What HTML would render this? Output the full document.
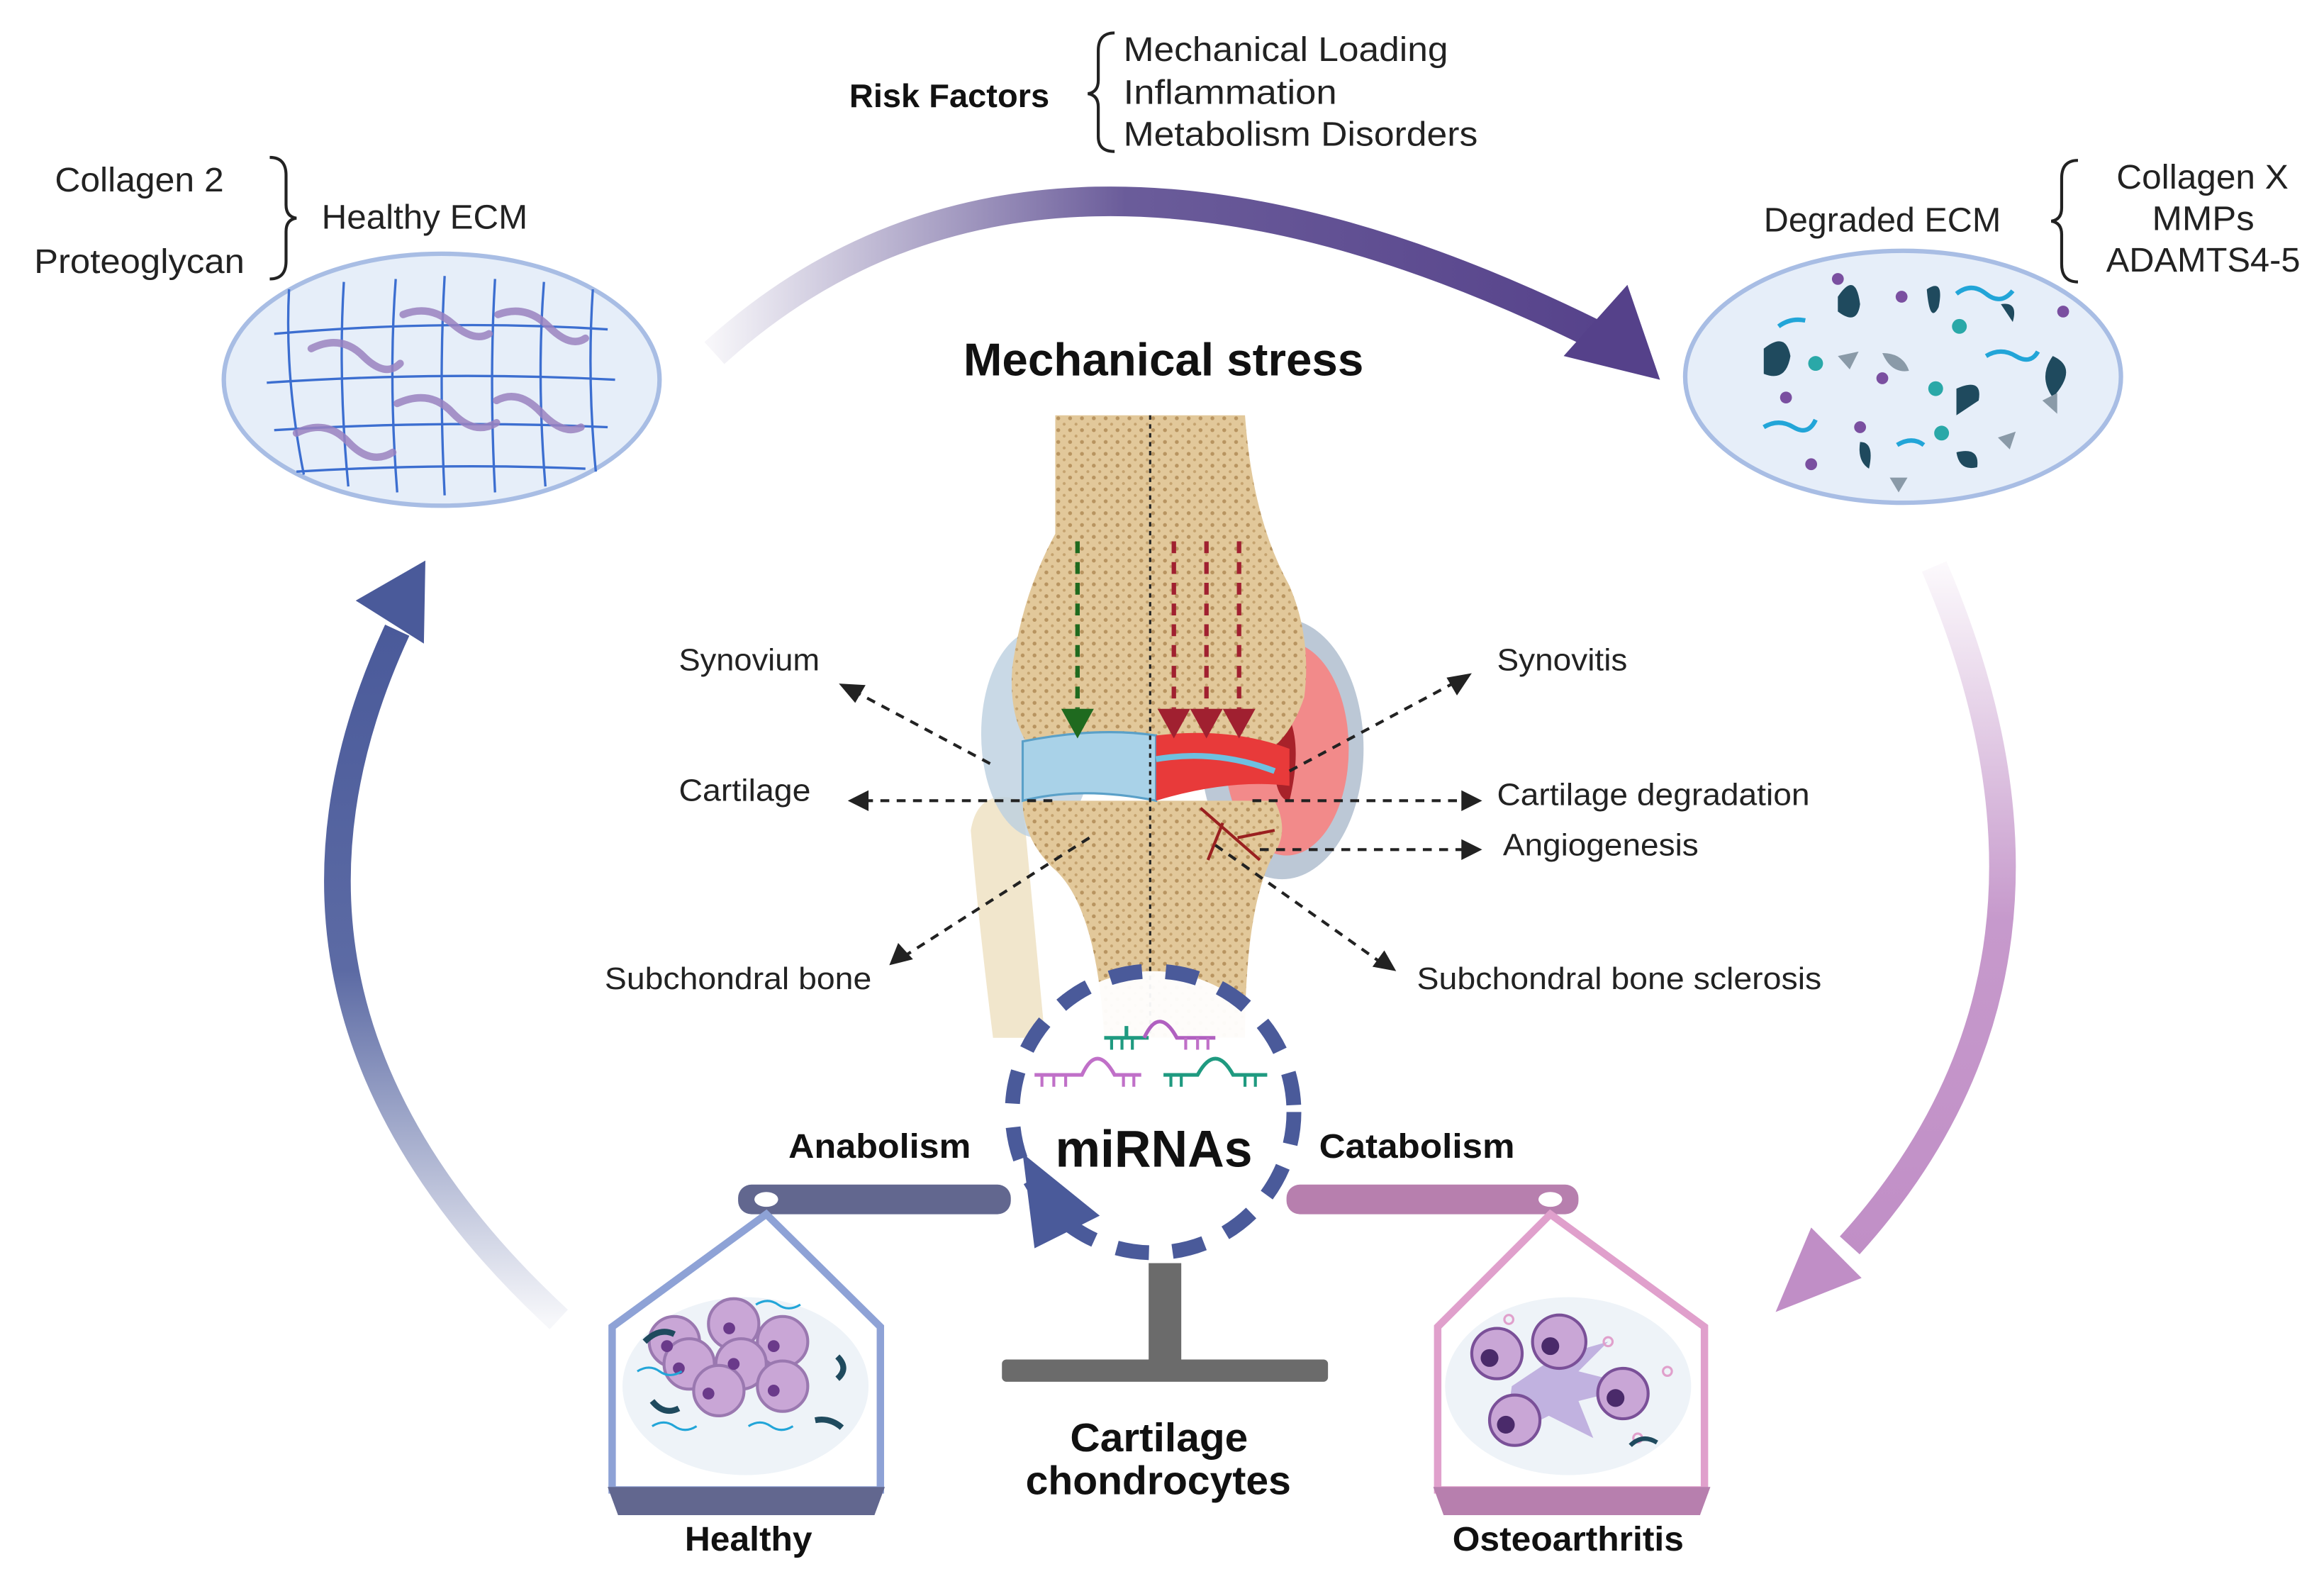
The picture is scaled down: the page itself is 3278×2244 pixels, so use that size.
<!DOCTYPE html>
<html><head><meta charset="utf-8"><style>
html,body{margin:0;padding:0;background:#fff;}
svg{display:block;}
text{font-family:"Liberation Sans",sans-serif;fill:#222;}
.b{font-weight:bold;fill:#111;}
</style></head><body>
<svg width="3278" height="2244" viewBox="0 0 1568 1073" xmlns="http://www.w3.org/2000/svg">
<defs>
<linearGradient id="gTop" x1="480" y1="0" x2="1100" y2="0" gradientUnits="userSpaceOnUse">
<stop offset="0" stop-color="#5a4a8f" stop-opacity="0.05"/><stop offset="0.45" stop-color="#5a4a8f" stop-opacity="0.9"/><stop offset="1" stop-color="#55418a"/></linearGradient>
<linearGradient id="gRight" x1="0" y1="380" x2="0" y2="860" gradientUnits="userSpaceOnUse">
<stop offset="0" stop-color="#c08ec6" stop-opacity="0.05"/><stop offset="0.5" stop-color="#c08ec6" stop-opacity="0.9"/><stop offset="1" stop-color="#c08ec6"/></linearGradient>
<linearGradient id="gLeft" x1="0" y1="890" x2="0" y2="420" gradientUnits="userSpaceOnUse">
<stop offset="0" stop-color="#4a5a9a" stop-opacity="0.05"/><stop offset="0.5" stop-color="#4a5a9a" stop-opacity="0.9"/><stop offset="1" stop-color="#4a5a9a"/></linearGradient>
<pattern id="dots" width="8" height="8" patternUnits="userSpaceOnUse"><rect width="8" height="8" fill="#e2c89a"/><circle cx="2" cy="2" r="1.3" fill="#b89460"/><circle cx="6" cy="6" r="1" fill="#c4a26e"/></pattern>
</defs>

<!-- arcs -->
<path d="M482,238 Q700,40 1075,225" fill="none" stroke="url(#gTop)" stroke-width="20"/>
<polygon points="1120,256 1055,240 1098,192" fill="#55418a"/>
<path d="M1305,382 Q1420,650 1248,840" fill="none" stroke="url(#gRight)" stroke-width="18"/>
<polygon points="1198,885 1222,828 1256,862" fill="#c08ec6"/>
<path d="M377,890 Q150,680 268,425" fill="none" stroke="url(#gLeft)" stroke-width="18"/>
<polygon points="287,378 240,405 286,434" fill="#4a5a9a"/>

<!-- top texts -->
<text x="573" y="72" font-size="22" class="b" textLength="135" lengthAdjust="spacingAndGlyphs">Risk Factors</text>
<path d="M752,22 Q741,22 741,34 L741,54 Q741,62 734,63 Q741,64 741,72 L741,92 Q741,102 752,102" fill="none" stroke="#222" stroke-width="2"/>
<text x="758" y="41" font-size="23" textLength="219" lengthAdjust="spacingAndGlyphs">Mechanical Loading</text>
<text x="758" y="70" font-size="23" textLength="144" lengthAdjust="spacingAndGlyphs">Inflammation</text>
<text x="758" y="98" font-size="23" textLength="239" lengthAdjust="spacingAndGlyphs">Metabolism Disorders</text>

<text x="37" y="129" font-size="23" textLength="114" lengthAdjust="spacingAndGlyphs">Collagen 2</text>
<text x="23" y="184" font-size="23" textLength="142" lengthAdjust="spacingAndGlyphs">Proteoglycan</text>
<path d="M182,106 Q193,106 193,118 L193,138 Q193,146 200,147 Q193,148 193,156 L193,176 Q193,188 182,188" fill="none" stroke="#222" stroke-width="2"/>
<text x="217" y="154" font-size="23" textLength="139" lengthAdjust="spacingAndGlyphs">Healthy ECM</text>

<text x="1190" y="156" font-size="23" textLength="160" lengthAdjust="spacingAndGlyphs">Degraded ECM</text>
<path d="M1402,108 Q1391,108 1391,120 L1391,140 Q1391,148 1384,149 Q1391,150 1391,158 L1391,178 Q1391,190 1402,190" fill="none" stroke="#222" stroke-width="2"/>
<text x="1428" y="127" font-size="23" textLength="116" lengthAdjust="spacingAndGlyphs">Collagen X</text>
<text x="1452" y="155" font-size="23" textLength="69" lengthAdjust="spacingAndGlyphs">MMPs</text>
<text x="1421" y="183" font-size="23" textLength="131" lengthAdjust="spacingAndGlyphs">ADAMTS4-5</text>

<!-- healthy ECM -->
<ellipse cx="298" cy="256" rx="147" ry="85" fill="#e6eef9" stroke="#a8bde4" stroke-width="3"/>
<g stroke="#3c6ed0" stroke-width="1.6" fill="none">
<path d="M185,225 Q300,215 410,222"/><path d="M180,258 Q300,250 415,256"/><path d="M185,290 Q300,283 410,288"/><path d="M200,318 Q300,312 395,316"/>
<path d="M195,195 Q192,255 205,320"/><path d="M232,190 Q228,255 235,328"/><path d="M267,188 Q262,255 268,332"/><path d="M300,186 Q296,255 300,334"/><path d="M334,188 Q330,255 334,332"/><path d="M367,190 Q362,255 368,328"/><path d="M400,195 Q396,255 402,318"/>
</g>
<g stroke="#9a82c0" stroke-width="5" fill="none" stroke-linecap="round" opacity="0.85">
<path d="M210,235 Q230,225 245,240 T270,245"/><path d="M272,212 Q290,205 305,218 T330,225"/><path d="M336,212 Q355,205 370,220 T395,228"/>
<path d="M268,272 Q290,262 305,278 T335,285"/><path d="M335,270 Q350,262 365,278 T392,288"/><path d="M200,292 Q220,282 235,298 T265,305"/>
</g>

<!-- degraded ECM -->
<ellipse cx="1284" cy="254" rx="147" ry="85" fill="#e6eef9" stroke="#a8bde4" stroke-width="3"/>
<g fill="#1f4a5e">
<path d="M1240,200 q12,-18 15,5 q-2,15 -15,5z"/><path d="M1300,195 q12,-8 8,12 q-6,12 -8,-12z"/><path d="M1190,235 q15,-12 18,5 q-3,18 -18,12z"/><path d="M1385,240 q18,8 0,28 q-10,-14 0,-28z"/><path d="M1320,262 q18,-8 15,8 l-15,10z"/><path d="M1255,298 q10,0 6,18 q-8,-5 -6,-18z"/><path d="M1320,305 q16,-4 14,10 q-12,3 -14,-10z"/><path d="M1350,205 q12,-2 8,12z"/>
</g>
<g fill="#8a9aa8"><path d="M1240,240 l14,-3 l-6,12z"/><path d="M1270,238 q14,0 18,12 q-12,2 -18,-12z"/><path d="M1378,270 l10,-5 l0,14z"/><path d="M1348,295 l12,-4 l-4,12z"/><path d="M1275,322 l12,0 l-6,10z"/></g>
<g fill="#2aa8a8"><circle cx="1225" cy="245" r="5"/><circle cx="1322" cy="220" r="5"/><circle cx="1306" cy="262" r="5"/><circle cx="1310" cy="292" r="5"/></g>
<g fill="#7a4fa0"><circle cx="1240" cy="188" r="4"/><circle cx="1283" cy="200" r="4"/><circle cx="1205" cy="268" r="4"/><circle cx="1222" cy="313" r="4"/><circle cx="1392" cy="210" r="4"/><circle cx="1270" cy="255" r="4"/><circle cx="1255" cy="288" r="4"/></g>
<g stroke="#22a5d8" stroke-width="3" fill="none"><path d="M1320,198 q10,-8 20,0 t18,-2"/><path d="M1190,288 q10,-6 20,0 t15,-5"/><path d="M1340,240 q10,-6 20,0 t15,-3"/><path d="M1280,300 q10,-6 18,0"/><path d="M1200,220 q8,-6 18,-4"/></g>

<!-- knee -->
<text x="650" y="253" font-size="31" class="b" textLength="270" lengthAdjust="spacingAndGlyphs">Mechanical stress</text>
<path d="M655,560 Q660,530 690,540 L705,700 L670,700 Q660,620 655,560z" fill="#f1e6cc"/>
<ellipse cx="700" cy="495" rx="38" ry="70" fill="#bcd0e0" opacity="0.8"/>
<ellipse cx="865" cy="505" rx="55" ry="88" fill="#bcc8d6"/>
<ellipse cx="868" cy="505" rx="42" ry="72" fill="#f28a8a"/>
<path d="M860,470 q22,20 10,70 q-15,0 -10,-70z" fill="#a8222a"/>
<path d="M712,280 L840,280 Q845,350 870,395 Q885,430 880,470 Q870,500 850,510 L780,505 L700,510 Q680,490 683,450 Q690,400 712,360z" fill="url(#dots)"/>
<path d="M690,540 L860,540 Q870,560 860,575 Q840,610 840,700 L745,700 Q740,610 710,585 Q690,565 690,540z" fill="url(#dots)"/>
<path d="M690,500 Q740,490 780,496 L780,540 Q730,530 690,540z" fill="#a9d2e8" stroke="#5aa0c8" stroke-width="1.5"/>
<path d="M780,496 Q830,490 870,505 L870,530 Q830,525 780,540z" fill="#e83a3a"/>
<path d="M780,512 Q820,505 860,520" stroke="#6ec0e0" stroke-width="4" fill="none"/>
<path d="M810,545 L850,580 M825,555 L815,580 M835,565 L860,560" stroke="#9a2020" stroke-width="2" fill="none"/>
<line x1="776" y1="280" x2="776" y2="700" stroke="#222" stroke-width="1.5" stroke-dasharray="3,3"/>
<line x1="727" y1="365" x2="727" y2="478" stroke="#1f6a1f" stroke-width="3" stroke-dasharray="8,6"/>
<polygon points="716,478 738,478 727,498" fill="#1f6a1f"/>
<g stroke="#a02030" stroke-width="3" stroke-dasharray="8,6"><line x1="792" y1="365" x2="792" y2="478"/><line x1="814" y1="365" x2="814" y2="478"/><line x1="836" y1="365" x2="836" y2="478"/></g>
<g fill="#a02030"><polygon points="781,478 803,478 792,498"/><polygon points="803,478 825,478 814,498"/><polygon points="825,478 847,478 836,498"/></g>

<!-- labels & dashed arrows -->
<g font-size="21">
<text x="458" y="452" textLength="95" lengthAdjust="spacingAndGlyphs">Synovium</text>
<text x="458" y="540" textLength="89" lengthAdjust="spacingAndGlyphs">Cartilage</text>
<text x="408" y="667" textLength="180" lengthAdjust="spacingAndGlyphs">Subchondral bone</text>
<text x="1010" y="452" textLength="88" lengthAdjust="spacingAndGlyphs">Synovitis</text>
<text x="1010" y="543" textLength="211" lengthAdjust="spacingAndGlyphs">Cartilage degradation</text>
<text x="1014" y="577" textLength="132" lengthAdjust="spacingAndGlyphs">Angiogenesis</text>
<text x="956" y="667" textLength="273" lengthAdjust="spacingAndGlyphs">Subchondral bone sclerosis</text>
</g>
<g stroke="#222" stroke-width="2" stroke-dasharray="6,5" fill="none">
<line x1="668" y1="515" x2="578" y2="467"/><line x1="710" y1="540" x2="585" y2="540"/><line x1="735" y1="565" x2="610" y2="645"/>
<line x1="870" y1="520" x2="982" y2="460"/><line x1="845" y1="540" x2="988" y2="540"/><line x1="850" y1="573" x2="988" y2="573"/><line x1="820" y1="570" x2="930" y2="648"/>
</g>
<g fill="#222">
<polygon points="566,461 584,462 577,474"/><polygon points="572,540 586,533 586,547"/><polygon points="600,651 606,636 616,647"/>
<polygon points="993,454 983,469 976,457"/><polygon points="1000,540 986,533 986,547"/><polygon points="1000,573 986,566 986,580"/><polygon points="942,655 926,652 934,641"/>
</g>

<!-- balance -->
<rect x="775" y="852" width="22" height="70" fill="#6b6b6b"/>
<rect x="676" y="917" width="220" height="15" rx="3" fill="#6b6b6b"/>
<rect x="498" y="799" width="184" height="20" rx="9" fill="#62678f"/>
<ellipse cx="517" cy="809" rx="8" ry="5" fill="#fff"/>
<rect x="868" y="799" width="197" height="20" rx="9" fill="#b77fae"/>
<ellipse cx="1046" cy="809" rx="8" ry="5" fill="#fff"/>
<text x="532" y="781" font-size="23" class="b" textLength="123" lengthAdjust="spacingAndGlyphs">Anabolism</text>
<text x="890" y="781" font-size="23" class="b" textLength="132" lengthAdjust="spacingAndGlyphs">Catabolism</text>

<!-- healthy pan -->
<path d="M517,819 L413,895 L413,1005 L594,1005 L594,895z" fill="none" stroke="#8ea2d6" stroke-width="5"/>
<ellipse cx="503" cy="935" rx="83" ry="60" fill="#eef3f8"/>
<g fill="#c9a6d6" stroke="#9a78b0" stroke-width="2">
<circle cx="455" cy="905" r="17"/><circle cx="495" cy="893" r="17"/><circle cx="528" cy="905" r="17"/><circle cx="465" cy="920" r="17"/><circle cx="500" cy="920" r="17"/><circle cx="485" cy="938" r="17"/><circle cx="528" cy="935" r="17"/></g>
<g fill="#6a3a8a"><circle cx="450" cy="908" r="4"/><circle cx="492" cy="896" r="4"/><circle cx="522" cy="908" r="4"/><circle cx="458" cy="923" r="4"/><circle cx="495" cy="920" r="4"/><circle cx="478" cy="940" r="4"/><circle cx="522" cy="938" r="4"/></g>
<g stroke="#1f4a5e" stroke-width="4" fill="none"><path d="M435,905 q10,-10 20,-5"/><path d="M565,915 q8,8 0,15"/><path d="M440,945 q8,10 18,5"/><path d="M550,958 q10,-2 18,5"/></g>
<g stroke="#22a5d8" stroke-width="1.5" fill="none"><path d="M430,925 q8,-5 15,0 t15,0"/><path d="M510,880 q8,-5 15,0 t15,0"/><path d="M440,962 q8,-5 15,0 t15,0"/><path d="M505,962 q8,-5 15,0 t15,0"/></g>
<path d="M410,1003 L597,1003 L590,1022 L417,1022z" fill="#62678f"/>
<text x="462" y="1046" font-size="23" class="b" textLength="86" lengthAdjust="spacingAndGlyphs">Healthy</text>

<!-- OA pan -->
<path d="M1046,819 L970,895 L970,1005 L1150,1005 L1150,895z" fill="none" stroke="#e0a0cc" stroke-width="5"/>
<ellipse cx="1058" cy="935" rx="83" ry="60" fill="#eef3f8"/>
<g fill="#b8a6dc" opacity="0.85"><path d="M1020,935 l30,-20 l35,-10 l-20,20 l40,10 l-40,10 l10,25 l-30,-15 l-30,15 z"/></g>
<g fill="#c9a6d6" stroke="#7a5098" stroke-width="2">
<circle cx="1010" cy="913" r="17"/><circle cx="1052" cy="905" r="18"/><circle cx="1095" cy="940" r="17"/><circle cx="1022" cy="958" r="17"/></g>
<g fill="#4a2a6a"><circle cx="1005" cy="916" r="6"/><circle cx="1046" cy="908" r="6"/><circle cx="1090" cy="943" r="6"/><circle cx="1016" cy="961" r="6"/></g>
<g fill="none" stroke="#e0a0cc" stroke-width="1.5"><circle cx="1018" cy="890" r="3"/><circle cx="1125" cy="925" r="3"/><circle cx="1105" cy="970" r="3"/><circle cx="1085" cy="905" r="3"/></g>
<path d="M1100,975 q8,-8 18,-2" stroke="#1f4a5e" stroke-width="3" fill="none"/>
<path d="M967,1003 L1154,1003 L1147,1022 L974,1022z" fill="#b77fae"/>
<text x="980" y="1046" font-size="23" class="b" textLength="156" lengthAdjust="spacingAndGlyphs">Osteoarthritis</text>

<!-- miRNA circle -->
<circle cx="778" cy="750" r="95" fill="#fff" fill-opacity="0.95" stroke="#4a5a9a" stroke-width="10" stroke-dasharray="22,16"/>
<polygon points="690,778 742,820 698,842" fill="#4a5a9a"/>
<g stroke-width="2.5" fill="none">
<path d="M745,700 L775,700 M760,700 v-8" stroke="#1f9a80"/><path d="M772,700 q10,-22 22,0 L820,700" stroke="#b060c0"/>
<path d="M698,725 L730,725 q10,-22 22,0 L770,725" stroke="#c070c8"/>
<path d="M785,725 L808,725 q12,-22 24,0 L855,725" stroke="#1f9a80"/>
</g>
<g stroke-width="2"><g stroke="#1f9a80"><line x1="750" y1="700" x2="750" y2="708"/><line x1="757" y1="700" x2="757" y2="708"/><line x1="764" y1="700" x2="764" y2="708"/><line x1="790" y1="725" x2="790" y2="733"/><line x1="797" y1="725" x2="797" y2="733"/><line x1="840" y1="725" x2="840" y2="733"/><line x1="847" y1="725" x2="847" y2="733"/></g>
<g stroke="#c070c8"><line x1="800" y1="700" x2="800" y2="708"/><line x1="808" y1="700" x2="808" y2="708"/><line x1="815" y1="700" x2="815" y2="708"/><line x1="703" y1="725" x2="703" y2="733"/><line x1="711" y1="725" x2="711" y2="733"/><line x1="719" y1="725" x2="719" y2="733"/><line x1="758" y1="725" x2="758" y2="733"/><line x1="765" y1="725" x2="765" y2="733"/></g></g>
<text x="712" y="787" font-size="35" class="b" textLength="133" lengthAdjust="spacingAndGlyphs">miRNAs</text>

<text x="722" y="979" font-size="27" class="b" textLength="120" lengthAdjust="spacingAndGlyphs">Cartilage</text>
<text x="692" y="1008" font-size="27" class="b" textLength="179" lengthAdjust="spacingAndGlyphs">chondrocytes</text>
</svg>
</body></html>
